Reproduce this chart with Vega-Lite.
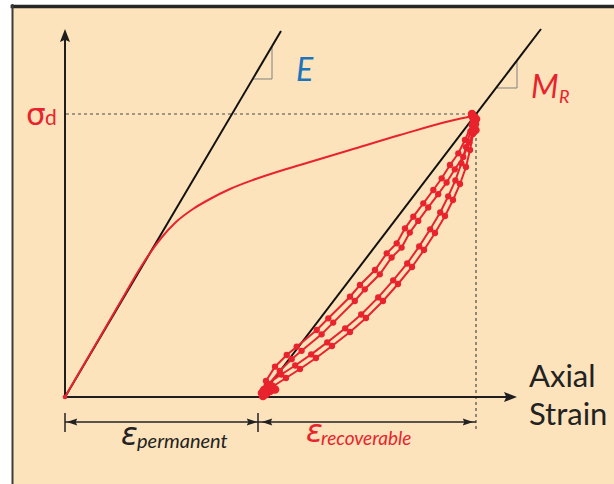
{
  "$schema": "https://vega.github.io/schema/vega-lite/v6.json",
  "width": 614,
  "height": 484,
  "autosize": {"type": "none"},
  "padding": 0,
  "background": "#ffffff",
  "config": {"view": {"stroke": null}, "font": "Lato"},
  "datasets": {
    "bg": [{"x": -13, "x2": 200, "y": 130.1667, "y2": -60}],
    "topBorder": [{"x": -13.6, "x2": 140, "y": 130.1667, "y2": 130.1667}],
    "leftBorder": [{"x": -13.125, "x2": -13.125, "y": 131, "y2": -31}],
    "dashed": [
      {"x": 0.25, "x2": 102, "y": 94.33, "y2": 94.33},
      {"x": 102.75, "x2": 102.75, "y": 94.33, "y2": -11}
    ],
    "moduli": [
      {"name": "E", "x": 0, "x2": 54, "y": 0, "y2": 122},
      {"name": "MR", "x": 49, "x2": 119, "y": 0.333, "y2": 122.67}
    ],
    "slopeTriangles": [
      {"x": 47, "x2": 51.75, "y": 106, "y2": 106},
      {"x": 51.75, "x2": 51.75, "y": 106, "y2": 116.67},
      {"x": 108, "x2": 113, "y": 103, "y2": 103},
      {"x": 113, "x2": 113, "y": 103, "y2": 112.2}
    ],
    "axes": [
      {"x": 0, "x2": 0, "y": -0.5, "y2": 119.5},
      {"x": 0, "x2": 111, "y": 0, "y2": 0}
    ],
    "arrowUp": [{"x": 0, "y": 120.5}],
    "arrowRight": [{"x": 111.375, "y": 0}],
    "dims": [
      {"x": 0, "x2": 48.25, "y": -8.333, "y2": -8.333},
      {"x": 48.25, "x2": 102.75, "y": -8.333, "y2": -8.333},
      {"x": 0, "x2": 0, "y": -5.33, "y2": -11.67},
      {"x": 48.25, "x2": 48.25, "y": -5.33, "y2": -11.67}
    ],
    "dimLeftHeads": [{"x": 1.75, "y": -8.333}, {"x": 50.5, "y": -8.333}],
    "dimRightHeads": [{"x": 46.75, "y": -8.333}, {"x": 100.75, "y": -8.333}],
    "monotonic": [
      {"x": 0, "y": 0}, {"x": 8.75, "y": 20}, {"x": 15, "y": 34.33}, {"x": 18.5, "y": 42.33},
      {"x": 21.25, "y": 48}, {"x": 24.25, "y": 53.33}, {"x": 27.75, "y": 58.33}, {"x": 32, "y": 62.67},
      {"x": 36.25, "y": 66}, {"x": 41.25, "y": 69.33}, {"x": 47, "y": 72.33}, {"x": 53.75, "y": 75.33},
      {"x": 58.75, "y": 77.33}, {"x": 71.25, "y": 82.33}, {"x": 83.75, "y": 87.33}, {"x": 96.25, "y": 92}, {"x": 102, "y": 93.67}
    ],
    "loops": [
      {"b": "U1", "i": 0, "x": 102.5, "y": 93.43}, {"b": "U1", "i": 1, "x": 101.68, "y": 90.67},
      {"b": "U1", "i": 2, "x": 100, "y": 85.67}, {"b": "U1", "i": 3, "x": 98.33, "y": 81.23},
      {"b": "U1", "i": 4, "x": 96.25, "y": 77.33}, {"b": "U1", "i": 5, "x": 94.18, "y": 72.9},
      {"b": "U1", "i": 6, "x": 92.08, "y": 69}, {"b": "U1", "i": 7, "x": 89.58, "y": 64.57},
      {"b": "U1", "i": 8, "x": 87.08, "y": 60.1}, {"b": "U1", "i": 9, "x": 85, "y": 56.23},
      {"b": "U1", "i": 10, "x": 82.93, "y": 51.23}, {"b": "U1", "i": 11, "x": 80.43, "y": 47.9},
      {"b": "U1", "i": 12, "x": 77.5, "y": 42.33}, {"b": "U1", "i": 13, "x": 73.75, "y": 37.33},
      {"b": "U1", "i": 14, "x": 71.25, "y": 33.43}, {"b": "U1", "i": 15, "x": 65.83, "y": 26.23},
      {"b": "U1", "i": 16, "x": 62.93, "y": 22.33}, {"b": "U1", "i": 17, "x": 57.93, "y": 16.77},
      {"b": "U1", "i": 18, "x": 55.43, "y": 14}, {"b": "U1", "i": 19, "x": 52.5, "y": 10.1},
      {"b": "U1", "i": 20, "x": 50.25, "y": 5.33}, {"b": "U1", "i": 21, "x": 49.25, "y": 1.33},
      {"b": "U2", "i": 0, "x": 102.5, "y": 93.43}, {"b": "U2", "i": 1, "x": 102.4, "y": 90.1},
      {"b": "U2", "i": 2, "x": 101.1, "y": 84.8}, {"b": "U2", "i": 3, "x": 99.55, "y": 80},
      {"b": "U2", "i": 4, "x": 97.45, "y": 75.9}, {"b": "U2", "i": 5, "x": 95.4, "y": 71.5},
      {"b": "U2", "i": 6, "x": 93.3, "y": 67.6}, {"b": "U2", "i": 7, "x": 90.8, "y": 63.2},
      {"b": "U2", "i": 8, "x": 88.3, "y": 58.7}, {"b": "U2", "i": 9, "x": 86.2, "y": 54.8},
      {"b": "U2", "i": 10, "x": 84.15, "y": 49.8}, {"b": "U2", "i": 11, "x": 81.65, "y": 46.5},
      {"b": "U2", "i": 12, "x": 78.7, "y": 40.9}, {"b": "U2", "i": 13, "x": 74.95, "y": 35.9},
      {"b": "U2", "i": 14, "x": 72.45, "y": 32}, {"b": "U2", "i": 15, "x": 67.05, "y": 24.8},
      {"b": "U2", "i": 16, "x": 64.15, "y": 20.9}, {"b": "U2", "i": 17, "x": 59.15, "y": 15.4},
      {"b": "U2", "i": 18, "x": 56.65, "y": 12.6}, {"b": "U2", "i": 19, "x": 53.7, "y": 8.7},
      {"b": "U2", "i": 20, "x": 51, "y": 4.3}, {"b": "U2", "i": 21, "x": 49.5, "y": 1},
      {"b": "L1", "i": 0, "x": 49.25, "y": 1.33}, {"b": "L1", "i": 1, "x": 51.75, "y": 3.33},
      {"b": "L1", "i": 2, "x": 55.25, "y": 6.33}, {"b": "L1", "i": 3, "x": 58.75, "y": 9.33},
      {"b": "L1", "i": 4, "x": 62.75, "y": 13}, {"b": "L1", "i": 5, "x": 66.75, "y": 17},
      {"b": "L1", "i": 6, "x": 71.25, "y": 21.67}, {"b": "L1", "i": 7, "x": 75.25, "y": 26.33},
      {"b": "L1", "i": 8, "x": 79.5, "y": 32}, {"b": "L1", "i": 9, "x": 83.25, "y": 37.67},
      {"b": "L1", "i": 10, "x": 86.75, "y": 43.33}, {"b": "L1", "i": 11, "x": 89.75, "y": 49},
      {"b": "L1", "i": 12, "x": 92.5, "y": 54.67}, {"b": "L1", "i": 13, "x": 95, "y": 60.33},
      {"b": "L1", "i": 14, "x": 97, "y": 65.67}, {"b": "L1", "i": 15, "x": 98.75, "y": 71},
      {"b": "L1", "i": 16, "x": 100.25, "y": 76.67}, {"b": "L1", "i": 17, "x": 101.25, "y": 82.33},
      {"b": "L1", "i": 18, "x": 102, "y": 87.67}, {"b": "L1", "i": 19, "x": 102.5, "y": 93.33},
      {"b": "L2", "i": 0, "x": 49.25, "y": 1.33}, {"b": "L2", "i": 1, "x": 50.5, "y": 4.3},
      {"b": "L2", "i": 2, "x": 54.05, "y": 7.5}, {"b": "L2", "i": 3, "x": 57.55, "y": 10.5},
      {"b": "L2", "i": 4, "x": 61.55, "y": 14.2}, {"b": "L2", "i": 5, "x": 65.55, "y": 18.2},
      {"b": "L2", "i": 6, "x": 70.05, "y": 22.9}, {"b": "L2", "i": 7, "x": 74.05, "y": 27.5},
      {"b": "L2", "i": 8, "x": 78.3, "y": 33.2}, {"b": "L2", "i": 9, "x": 82.05, "y": 38.9},
      {"b": "L2", "i": 10, "x": 85.55, "y": 44.5}, {"b": "L2", "i": 11, "x": 88.55, "y": 50.2},
      {"b": "L2", "i": 12, "x": 91.3, "y": 55.9}, {"b": "L2", "i": 13, "x": 93.8, "y": 61.5},
      {"b": "L2", "i": 14, "x": 95.8, "y": 66.9}, {"b": "L2", "i": 15, "x": 97.6, "y": 72.2},
      {"b": "L2", "i": 16, "x": 99.1, "y": 77.9}, {"b": "L2", "i": 17, "x": 100.25, "y": 83.3},
      {"b": "L2", "i": 18, "x": 101.35, "y": 88.5}, {"b": "L2", "i": 19, "x": 102.5, "y": 93.33}
    ],
    "blobs": [
      {"x": 49.25, "y": 1.33}, {"x": 49.75, "y": 2.33}, {"x": 50.5, "y": 2.67},
      {"x": 49.5, "y": 0.33}, {"x": 51.25, "y": 2}, {"x": 50.25, "y": 1},
      {"x": 51.75, "y": 3.5}, {"x": 52.5, "y": 2.5},
      {"x": 102, "y": 93.33}, {"x": 102.25, "y": 92}, {"x": 101.75, "y": 94.33},
      {"x": 102.75, "y": 92.67}, {"x": 102.5, "y": 91}, {"x": 102.6, "y": 89}
    ],
    "origin": [{"x": 0, "y": 0}],
    "sigma": [{"x": -9.75, "y": 90.67, "t": "σ"}],
    "sigmaSub": [{"x": -5, "y": 90.67, "t": "d"}],
    "eLabel": [{"x": 57.75, "y": 105.33, "t": "E"}],
    "mLabel": [{"x": 116.5, "y": 99.67, "t": "M"}],
    "mSub": [{"x": 123.5, "y": 98, "t": "R"}],
    "axisTitle": [{"x": 116, "y": 3.33, "t": "Axial"}, {"x": 116, "y": -9.33, "t": "Strain"}],
    "epsPerm": [{"x": 14, "y": -16, "t": "ε"}],
    "permSub": [{"x": 18, "y": -17, "t": "permanent"}],
    "epsRec": [{"x": 60.25, "y": -15, "t": "ε"}],
    "recSub": [{"x": 64, "y": -16, "t": "recoverable"}]
  },
  "encoding": {
    "x": {"field": "x", "type": "quantitative", "scale": {"domain": [-16.25, 137.25], "nice": false, "zero": false}, "axis": null},
    "y": {"field": "y", "type": "quantitative", "scale": {"domain": [-29, 132.3333], "nice": false, "zero": false}, "axis": null}
  },
  "layer": [
    {"data": {"name": "bg"}, "mark": {"type": "rect", "fill": "#FDE3BB", "clip": true},
     "encoding": {"x2": {"field": "x2"}, "y2": {"field": "y2"}}},
    {"data": {"name": "topBorder"}, "mark": {"type": "rule", "color": "#262626", "strokeWidth": 3.5, "clip": true},
     "encoding": {"x2": {"field": "x2"}, "y2": {"field": "y2"}}},
    {"data": {"name": "leftBorder"}, "mark": {"type": "rule", "color": "#3c3c3c", "strokeWidth": 2, "clip": true},
     "encoding": {"x2": {"field": "x2"}, "y2": {"field": "y2"}}},
    {"data": {"name": "dashed"}, "mark": {"type": "rule", "color": "#4a4a4a", "strokeWidth": 1.2, "strokeDash": [3, 3]},
     "encoding": {"x2": {"field": "x2"}, "y2": {"field": "y2"}}},
    {"data": {"name": "slopeTriangles"}, "mark": {"type": "rule", "color": "#808080", "strokeWidth": 1},
     "encoding": {"x2": {"field": "x2"}, "y2": {"field": "y2"}}},
    {"data": {"name": "moduli"}, "mark": {"type": "rule", "color": "#111111", "strokeWidth": 2},
     "encoding": {"x2": {"field": "x2"}, "y2": {"field": "y2"}}},
    {"data": {"name": "axes"}, "mark": {"type": "rule", "color": "#1e1e1e", "strokeWidth": 2},
     "encoding": {"x2": {"field": "x2"}, "y2": {"field": "y2"}}},
    {"data": {"name": "arrowUp"}, "mark": {"type": "point", "shape": "M0,-1L0.77,1L0,0.65L-0.77,1Z", "filled": true, "color": "#1e1e1e", "opacity": 1, "size": 169, "angle": 0}},
    {"data": {"name": "arrowRight"}, "mark": {"type": "point", "shape": "M0,-1L0.77,1L0,0.65L-0.77,1Z", "filled": true, "color": "#1e1e1e", "opacity": 1, "size": 169, "angle": 90}},
    {"data": {"name": "dims"}, "mark": {"type": "rule", "color": "#222222", "strokeWidth": 1.5},
     "encoding": {"x2": {"field": "x2"}, "y2": {"field": "y2"}}},
    {"data": {"name": "dimLeftHeads"}, "mark": {"type": "point", "shape": "M0,-1L0.65,1L0,0.7L-0.65,1Z", "filled": true, "color": "#222222", "opacity": 1, "size": 110, "angle": 270}},
    {"data": {"name": "dimRightHeads"}, "mark": {"type": "point", "shape": "M0,-1L0.65,1L0,0.7L-0.65,1Z", "filled": true, "color": "#222222", "opacity": 1, "size": 110, "angle": 90}},
    {"data": {"name": "monotonic"}, "mark": {"type": "line", "color": "#E8232D", "strokeWidth": 2, "interpolate": "monotone"}},
    {"data": {"name": "loops"}, "mark": {"type": "line", "color": "#E8232D", "strokeWidth": 2, "point": {"filled": true, "size": 40, "color": "#E8232D", "opacity": 1}},
     "encoding": {"detail": {"field": "b"}, "order": {"field": "i", "type": "quantitative"}}},
    {"data": {"name": "blobs"}, "mark": {"type": "point", "filled": true, "size": 75, "color": "#E8232D", "opacity": 1}},
    {"data": {"name": "origin"}, "mark": {"type": "point", "filled": true, "size": 22, "color": "#E8232D", "opacity": 1}},
    {"data": {"name": "sigma"}, "mark": {"type": "text", "font": "DejaVu Sans", "fontSize": 31, "color": "#E8232D", "align": "left", "baseline": "alphabetic"}, "encoding": {"text": {"field": "t"}}},
    {"data": {"name": "sigmaSub"}, "mark": {"type": "text", "fontSize": 21, "color": "#E8232D", "align": "left", "baseline": "alphabetic"}, "encoding": {"text": {"field": "t"}}},
    {"data": {"name": "eLabel"}, "mark": {"type": "text", "fontSize": 32, "fontStyle": "italic", "color": "#1B75BC", "align": "left", "baseline": "alphabetic"}, "encoding": {"text": {"field": "t"}}},
    {"data": {"name": "mLabel"}, "mark": {"type": "text", "fontSize": 32, "fontStyle": "italic", "color": "#E8232D", "align": "left", "baseline": "alphabetic"}, "encoding": {"text": {"field": "t"}}},
    {"data": {"name": "mSub"}, "mark": {"type": "text", "fontSize": 18, "fontStyle": "italic", "color": "#E8232D", "align": "left", "baseline": "alphabetic"}, "encoding": {"text": {"field": "t"}}},
    {"data": {"name": "axisTitle"}, "mark": {"type": "text", "fontSize": 31, "color": "#222222", "align": "left", "baseline": "alphabetic"}, "encoding": {"text": {"field": "t"}}},
    {"data": {"name": "epsPerm"}, "mark": {"type": "text", "font": "DejaVu Sans", "fontSize": 31, "fontStyle": "italic", "color": "#222222", "align": "left", "baseline": "alphabetic"}, "encoding": {"text": {"field": "t"}}},
    {"data": {"name": "permSub"}, "mark": {"type": "text", "fontSize": 20, "fontStyle": "italic", "color": "#222222", "align": "left", "baseline": "alphabetic"}, "encoding": {"text": {"field": "t"}}},
    {"data": {"name": "epsRec"}, "mark": {"type": "text", "font": "DejaVu Sans", "fontSize": 31, "fontStyle": "italic", "color": "#E8232D", "align": "left", "baseline": "alphabetic"}, "encoding": {"text": {"field": "t"}}},
    {"data": {"name": "recSub"}, "mark": {"type": "text", "fontSize": 19, "fontStyle": "italic", "color": "#E8232D", "align": "left", "baseline": "alphabetic"}, "encoding": {"text": {"field": "t"}}}
  ]
}
